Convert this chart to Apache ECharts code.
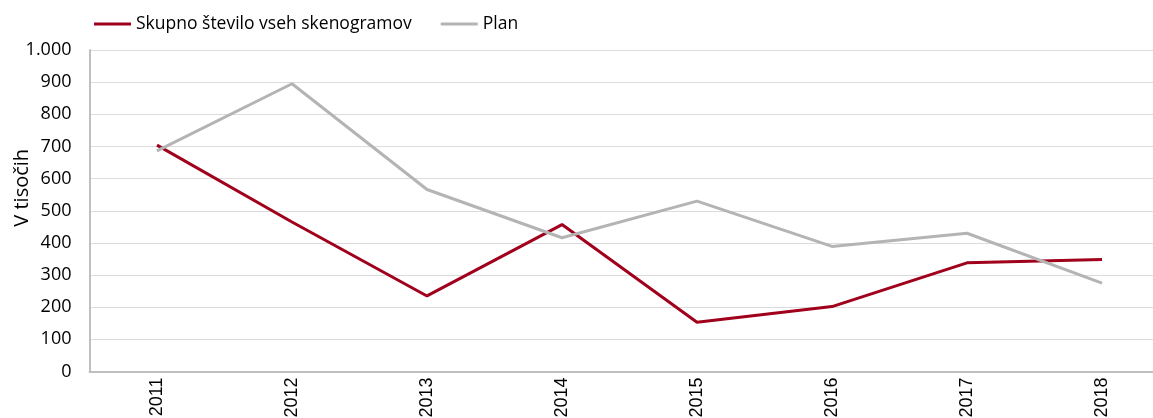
<!DOCTYPE html>
<html>
<head>
<meta charset="utf-8">
<script src="https://cdn.jsdelivr.net/npm/echarts@6/dist/echarts.min.js"></script>
<style>
  html, body { margin: 0; padding: 0; background: #fff; }
  #main { width: 1153px; height: 418px; }
</style>
</head>
<body>
<div id="main"></div>
<script>
var years = ['2011', '2012', '2013', '2014', '2015', '2016', '2017', '2018'];
var skupno = [704, 465, 235, 457, 153, 202, 338, 348];
var plan = [686, 895, 566, 416, 530, 389, 430, 275];

var font = 'Open Sans';
var myChart = echarts.init(document.getElementById('main'));
var option = {
  animation: false,
  textStyle: { fontFamily: font },
  legend: {
    left: 89,
    top: 10,
    icon: 'rect',
    itemWidth: 37,
    itemHeight: 3,
    itemGap: 29,
    textStyle: { fontSize: 17.5, color: '#000', fontFamily: font },
    data: ['Skupno število vseh skenogramov', 'Plan']
  },
  grid: {
    left: 89.5,
    width: 1080,
    top: 50,
    bottom: 46.5,
    outerBoundsMode: 'none',
    containLabel: false
  },
  xAxis: {
    type: 'category',
    data: years,
    boundaryGap: true,
    axisLine: { lineStyle: { color: '#bfbfbf', width: 2 } },
    axisTick: { show: false },
    axisLabel: {
      rotate: 90,
      margin: 6,
      color: '#000',
      fontSize: 18,
      fontFamily: 'Liberation Sans'
    }
  },
  yAxis: {
    type: 'value',
    min: 0,
    max: 1000,
    interval: 100,
    name: 'V tisočih',
    nameLocation: 'middle',
    nameGap: 57,
    nameMoveOverlap: false,
    nameTextStyle: { color: '#000', fontSize: 20, fontFamily: font, padding: [0, 0, 0, 46] },
    axisLine: { show: true, lineStyle: { color: '#bfbfbf', width: 2 } },
    axisTick: { show: false },
    axisLabel: {
      margin: 18,
      color: '#000',
      fontSize: 18,
      fontFamily: font,
      formatter: function (v) {
        return v >= 1000 ? Math.floor(v / 1000) + '.' + String(v % 1000).padStart(3, '0') : String(v);
      }
    },
    splitLine: { lineStyle: { color: '#b8b8b8', type: [1, 1], width: 1 } }
  },
  series: [
    {
      name: 'Skupno število vseh skenogramov',
      type: 'line',
      data: skupno,
      showSymbol: false,
      symbol: 'none',
      itemStyle: { color: '#a0001c' },
      lineStyle: { color: '#a0001c', width: 3 }
    },
    {
      name: 'Plan',
      type: 'line',
      data: plan,
      showSymbol: false,
      symbol: 'none',
      itemStyle: { color: '#b4b4b4' },
      lineStyle: { color: '#b4b4b4', width: 3 }
    }
  ]
};
myChart.setOption(option);
</script>
</body>
</html>
